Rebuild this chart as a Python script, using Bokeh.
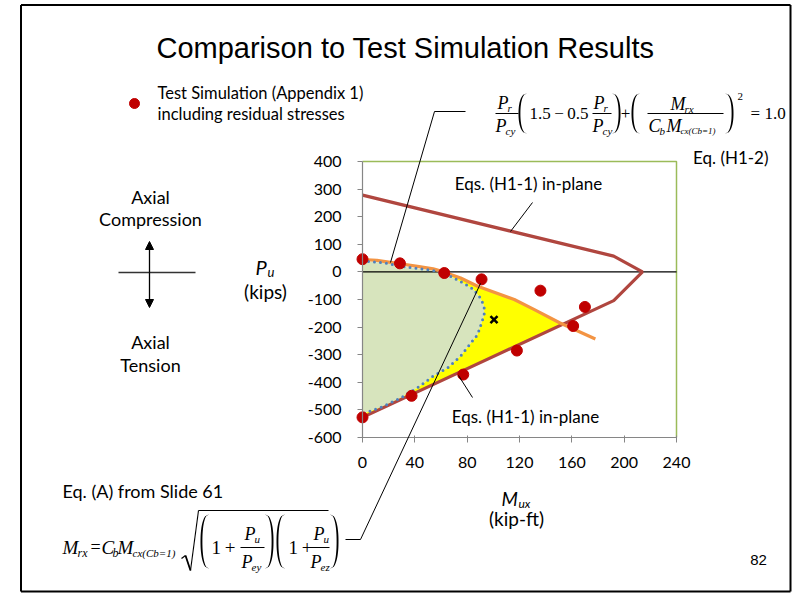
import numpy as np
from bokeh.plotting import figure
from bokeh.models import Label, Arrow, NormalHead, PolyAnnotation, Range1d, FixedTicker, LinearAxis
from bokeh.embed import file_html
from bokeh.resources import INLINE

# ---------------- data ----------------
x_ticks = [0, 40, 80, 120, 160, 200, 240]
y_ticks = [-600, -500, -400, -300, -200, -100, 0, 100, 200, 300, 400]

# Eqs. (H1-1) in-plane envelope (kip-ft, kips)
h11_mux = [0, 192, 214, 192, 0]
h11_pu = [278, 57, 0, -104, -527]

# Eq. (H1-2) curve
h12_mux = [0, 11, 29, 42, 54, 62, 75, 88, 116, 131, 151, 178]
h12_pu = [45, 42, 29, 20, 11, 0, -22, -52, -100, -136, -185, -243]

# Eq. (A) curve (dotted)
eqa_mux = [0, 16, 34, 54, 65, 77, 85, 90, 93, 93, 91, 88, 82, 75, 65, 54, 42, 29, 16, 0]
eqa_pu = [39, 33, 17, 5, -10, -40, -64, -94, -124, -155, -185, -227, -263, -305, -348,
          -378, -420, -457, -487, -515]

# Test simulation results
test_mux = [0, 28.6, 62.5, 91, 136, 170, 161, 118, 77, 37.5, 0]
test_pu = [46, 31, -4, -27, -68, -127, -196, -285, -372, -449, -527]

# single "x" point
xpt_mux = [100.5]
xpt_pu = [-173]

# ---------------- figure: frame covers the whole page ----------------
W, H = 810, 595
FX0, FY0, FW, FH = 362.0, 161.0, 314.0, 276.0   # chart plot-area box on the page (px)
def dx(X):
    return x_ticks[0] + (X - FX0) * (x_ticks[-1] - x_ticks[0]) / FW
def dy(Y):
    return y_ticks[-1] - (Y - FY0) * (y_ticks[-1] - y_ticks[0]) / FH

p = figure(width=W, height=H, x_range=Range1d(dx(0), dx(W)), y_range=Range1d(dy(H), dy(0)),
           output_backend="svg", toolbar_location=None, x_axis_type=None, y_axis_type=None,
           min_border=0)
p.outline_line_color = None
p.background_fill_color = "white"
p.border_fill_color = "white"

yax = LinearAxis(fixed_location=x_ticks[0], bounds=(y_ticks[0], y_ticks[-1]),
                 ticker=FixedTicker(ticks=y_ticks))
xax = LinearAxis(fixed_location=y_ticks[0], bounds=(x_ticks[0], x_ticks[-1]),
                 ticker=FixedTicker(ticks=x_ticks))
for ax in (xax, yax):
    ax.axis_line_color = "#868686"
    ax.axis_line_width = 1.2
    ax.major_tick_line_color = "#868686"
    ax.minor_tick_line_color = None
    ax.major_tick_out = 5
    ax.major_label_text_font = "Lato"
    ax.major_label_text_font_size = "16px"
    ax.major_label_text_color = "black"
yax.major_label_overrides = {v: str(v) for v in y_ticks}
xax.major_label_overrides = {v: str(v) for v in x_ticks}
xax.major_tick_in = 2
yax.major_tick_in = 0
xax.major_label_standoff = 14
yax.major_label_standoff = 16

# ---------------- fills ----------------
p.patch(eqa_mux, eqa_pu, fill_color="#D7E4BD", line_color=None)

# intersection of orange curve last segment with lower H1-1 segment
a1 = np.array([h11_mux[3], h11_pu[3]], float); a2 = np.array([h11_mux[4], h11_pu[4]], float)
b1 = np.array([h12_mux[-2], h12_pu[-2]], float); b2 = np.array([h12_mux[-1], h12_pu[-1]], float)
da, db = a2 - a1, b2 - b1
t = np.cross(b1 - a1, db) / np.cross(da, db)
ix, iy = a1 + t * da
oi = [i for i, v in enumerate(h12_mux) if 62 <= v < ix]
yx = [h12_mux[i] for i in oi] + [ix, h11_mux[4]] + eqa_mux[::-1][:16]
yy = [h12_pu[i] for i in oi] + [iy, h11_pu[4]] + eqa_pu[::-1][:16]
p.patch(yx, yy, fill_color="#FFFF00", line_color=None)

# chart plot-area outline (top and right) and zero line
p.line([x_ticks[0], x_ticks[-1], x_ticks[-1]], [y_ticks[-1], y_ticks[-1], y_ticks[0]],
       line_color="#9BBB59", line_width=1.5)
p.line([x_ticks[0], x_ticks[-1]], [0, 0], line_color="black", line_width=1.2)

# ---------------- curves ----------------
p.line(h11_mux, h11_pu, line_color="#B0463F", line_width=3.2)
p.line(h12_mux, h12_pu, line_color="#F39443", line_width=3.2)
p.line(eqa_mux, eqa_pu, line_color="#4F81BD", line_width=3, line_dash="0 6", line_cap="round")
p.scatter(test_mux, test_pu, size=11, fill_color="#C00000", line_color="#C00000")
p.scatter(xpt_mux, xpt_pu, marker="x", size=10, line_color="black", line_width=2.5)

p.add_layout(yax, "left")
p.add_layout(xax, "below")

# ---------------- decoration helpers (page px) ----------------
def lab(X, Y, t, size=17, font="Lato", style="normal", align="left", base="middle", color="black"):
    p.add_layout(Label(x=dx(X), y=dy(Y), text=t, text_font=font, text_font_size=f"{size}px",
                       text_font_style=style, text_align=align, text_baseline=base,
                       text_color=color))

def seg(X1, Y1, X2, Y2, w=1.2, c="black", start=None, end=None):
    p.add_layout(Arrow(x_start=dx(X1), y_start=dy(Y1), x_end=dx(X2), y_end=dy(Y2),
                       line_width=w, line_color=c, start=start, end=end))

def paren(x0, x1, y0, y1, left=True, thick=1.6):
    tt = np.linspace(-1, 1, 31)
    w = (x1 - x0) - thick
    bulge = np.power(1 - np.abs(tt) ** 2.2, 1 / 2.2)
    ys = (y0 + y1) / 2 + tt * (y1 - y0) / 2
    if left:
        outer = x1 - w * bulge - thick * bulge
        inner = x1 - w * bulge + 0.3
    else:
        outer = x0 + w * bulge + thick * bulge
        inner = x0 + w * bulge - 0.3
    xs = list(outer) + list(inner[::-1])
    yys = list(ys) + list(ys[::-1])
    p.add_layout(PolyAnnotation(xs=[dx(v) for v in xs], ys=[dy(v) for v in yys],
                                fill_color="black", fill_alpha=1, line_color=None))

SERIF = "Liberation Serif"

def sym(X, Y, main, sub=None, size=18, subsize=11, subdx=None, style="italic"):
    lab(X, Y, main, size=size, font=SERIF, style=style)
    if sub is not None:
        lab(X + subdx, Y + 5, sub, size=subsize, font=SERIF, style="italic")

# ---------------- slide border ----------------
BL, BR, BT, BB = 20.5, 790, 4.5, 591
seg(BL, BT, BR, BT, w=2)
seg(BR, BT, BR, BB, w=2)
seg(BR, BB, BL, BB, w=2)
seg(BL, BB, BL, BT, w=2)

# ---------------- title ----------------
lab(405, 47, "Comparison to Test Simulation Results", size=29, font="Liberation Sans", align="center")

# ---------------- legend ----------------
p.scatter([dx(134)], [dy(103)], size=10, fill_color="#C00000", line_color="#C00000")
lab(157, 92, "Test Simulation (Appendix 1)", size=16.5)
lab(157, 113, "including residual stresses", size=16.5)

# ---------------- axial sign convention ----------------
lab(150, 196, "Axial", size=18, align="center")
lab(150, 218, "Compression", size=18, align="center")
lab(150, 341, "Axial", size=18, align="center")
lab(150, 364, "Tension", size=18, align="center")
seg(118, 272, 195, 272, w=1.3, c="#333333")
seg(149, 272, 149, 241, w=1.3, end=NormalHead(size=8, fill_color="black", line_color="black"))
seg(149, 272, 149, 307, w=1.3, end=NormalHead(size=8, fill_color="black", line_color="black"))

# ---------------- axis titles ----------------
lab(255, 266, "P", size=20, font="Lato", style="italic")
lab(267, 271, "u", size=13, font="Lato", style="italic")
lab(265, 291, "(kips)", size=19, align="center")
lab(501, 498, "M", size=19, font="Lato", style="italic")
lab(518, 503, "ux", size=12, font="Lato", style="italic")
lab(516, 518, "(kip-ft)", size=19, align="center")

# ---------------- chart labels ----------------
lab(528, 183, "Eqs. (H1-1) in-plane", align="center")
lab(525, 416, "Eqs. (H1-1) in-plane", align="center")
seg(532, 202, 510, 231, w=1)
seg(472, 397, 458, 375, w=1)
lab(768, 157, "Eq. (H1-2)", align="right")

# ---------------- top equation (H1-2) ----------------
seg(434, 111, 465, 111, w=1)
seg(434, 111, 390, 262, w=1)
sym(497, 102, "P", "r", subdx=10)
seg(495, 113, 518, 113, w=1)
sym(495, 125, "P", "cy", subdx=10)
paren(518, 526, 93, 133, left=True)
lab(529, 113, "1.5\u2009\u2212\u20090.5", size=17, font=SERIF)
sym(593, 102, "P", "r", subdx=10)
seg(592, 113, 611, 113, w=1)
sym(592, 125, "P", "cy", subdx=10)
paren(612, 620, 93, 133, left=False)
lab(625, 113, "+", size=17, font=SERIF, align="center")
paren(631, 639, 93, 133, left=True)
sym(670, 103, "M", "rx", subdx=14)
seg(647, 113, 723, 113, w=1)
sym(648, 125, "C", "b", subdx=11)
sym(666, 125, "M", "cx(Cb=1)", subdx=14, subsize=9)
paren(725, 733, 93, 133, left=False)
lab(737, 96, "2", size=11, font=SERIF)
lab(750, 113, "=", size=17, font=SERIF)
lab(764, 113, "1.0", size=17, font=SERIF)

# ---------------- bottom equation (A) ----------------
lab(62, 490, "Eq. (A) from Slide 61", size=18)
sym(62, 547, "M", "rx", size=19, subsize=12, subdx=15)
lab(90, 546, "=", size=18, font=SERIF)
sym(101, 547, "C", "b", size=19, subsize=12, subdx=11)
sym(117, 547, "M", "cx(Cb=1)", size=19, subsize=11, subdx=15)
seg(181, 558, 185, 555, w=1.2)
seg(185, 555, 190, 570, w=1.8)
seg(190, 570, 198, 510, w=1.1)
seg(198, 510, 328, 510, w=1.1)
paren(200, 208, 514, 568, left=True)
lab(211, 547, "1\u2009+", size=19, font=SERIF)
sym(244, 533, "P", "u", subdx=10)
seg(240, 547, 264, 547, w=1)
sym(241, 561, "P", "ey", subdx=10)
paren(265, 273, 514, 568, left=False)
paren(276, 284, 514, 568, left=True)
lab(288, 547, "1\u2009+", size=19, font=SERIF)
sym(313, 533, "P", "u", subdx=10)
seg(310, 547, 329, 547, w=1)
sym(310, 561, "P", "ez", subdx=10)
paren(330, 338, 514, 568, left=False)
seg(345, 539, 360, 539, w=1)
seg(360, 539, 480, 283, w=1)

# ---------------- page number ----------------
lab(758, 559, "82", size=15, font="Liberation Sans", align="center")

open("out.html", "w").write(file_html(p, INLINE))
